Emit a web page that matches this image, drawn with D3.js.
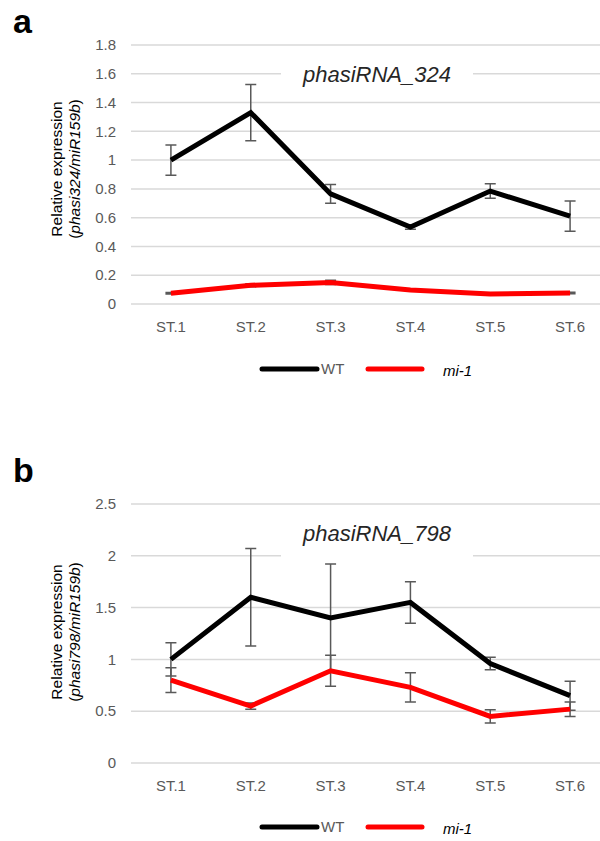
<!DOCTYPE html>
<html lang="en">
<head>
<meta charset="UTF-8" />
<title>phasiRNA expression</title>
<script src="https://cdnjs.cloudflare.com/ajax/libs/d3/7.9.0/d3.min.js"></script>
<style>
  html, body { margin: 0; padding: 0; background: #fff; }
  svg { display: block; font-family: "Liberation Sans", Arial, sans-serif; }
  .grid line { stroke: #d9d9d9; stroke-width: 1.5px; }
  .tick-label { fill: #595959; font-size: 15px; }
  .err { stroke: #595959; stroke-width: 1.5px; fill: none; }
</style>
</head>
<body>
<svg id="chart" width="600" height="841"></svg>
<script>
  // ---------- data ----------
  const stages = ["ST.1", "ST.2", "ST.3", "ST.4", "ST.5", "ST.6"];

  const wt324 = [1.0, 1.33, 0.765, 0.535, 0.785, 0.61];
  const wt324Err = [0.105, 0.195, 0.065, 0.015, 0.05, 0.105];
  const mi324 = [0.075, 0.13, 0.15, 0.097, 0.07, 0.077];
  const mi324Err = [0.005, 0.01, 0.015, 0.005, 0.005, 0.005];
  const ticks324 = [0, 0.2, 0.4, 0.6, 0.8, 1, 1.2, 1.4, 1.6, 1.8];

  const wt798 = [1.0, 1.6, 1.4, 1.55, 0.96, 0.65];
  const wt798Err = [0.16, 0.47, 0.52, 0.2, 0.06, 0.14];
  const mi798 = [0.8, 0.55, 0.89, 0.73, 0.45, 0.52];
  const mi798Err = [0.12, 0.03, 0.15, 0.14, 0.065, 0.07];
  const ticks798 = [0, 0.5, 1, 1.5, 2, 2.5];

  const svg = d3.select("#chart");

  function panel(opt) {
    const g = svg.append("g");
    const x = d3.scaleBand().domain(stages).range([131, 610]);
    const y = d3.scaleLinear().domain([0, opt.max]).range([opt.y0, opt.y1]);
    const cx = (d) => x(d) + x.bandwidth() / 2;

    // panel letter
    g.append("text").attr("x", 13).attr("y", opt.letterY)
      .attr("font-size", 34).attr("font-weight", "bold").attr("fill", "#000")
      .text(opt.letter);

    // gridlines
    g.append("g").attr("class", "grid")
      .selectAll("line").data(opt.ticks).join("line")
      .attr("x1", 131).attr("x2", 610)
      .attr("y1", (d) => y(d)).attr("y2", (d) => y(d));

    // tick labels
    g.selectAll("text.tick-label.yl").data(opt.ticks).join("text")
      .attr("class", "tick-label yl")
      .attr("x", 116).attr("y", (d) => y(d)).attr("dy", "0.35em")
      .attr("text-anchor", "end").text((d) => d);

    g.selectAll("text.tick-label.xl").data(stages).join("text")
      .attr("class", "tick-label xl")
      .attr("x", cx).attr("y", opt.y0 + 28)
      .attr("text-anchor", "middle").text((d) => d);

    // title with white box over gridline
    g.append("rect").attr("x", 281).attr("y", y(opt.titleTick) - 14)
      .attr("width", 192).attr("height", 28).attr("fill", "#fff");
    g.append("text").attr("x", 377).attr("y", opt.titleY)
      .attr("text-anchor", "middle").attr("font-size", 22)
      .attr("font-style", "italic").attr("fill", "#262626")
      .text(opt.title);

    // y-axis title
    const yt = g.append("text")
      .attr("transform", `translate(0,${opt.labelY}) rotate(-90)`)
      .attr("text-anchor", "middle").attr("font-size", 15.5).attr("fill", "#000");
    yt.append("tspan").attr("x", 0).attr("y", 62).text("Relative expression");
    const t2 = yt.append("tspan").attr("x", 0).attr("y", 80);
    t2.append("tspan").text("(");
    t2.append("tspan").attr("font-style", "italic").text(opt.ratio);
    t2.append("tspan").text(")");

    const line = d3.line().x((d, i) => cx(stages[i])).y((d) => y(d));

    const series = [
      { vals: opt.wt, err: opt.wtErr, color: "#000" },
      { vals: opt.mi, err: opt.miErr, color: "#ff0000" }
    ];

    // error bars
    series.forEach((s) => {
      const eb = g.append("g").attr("class", "err");
      s.vals.forEach((v, i) => {
        const px = cx(stages[i]);
        const top = y(v + s.err[i]), bot = y(v - s.err[i]);
        eb.append("path")
          .attr("d", `M${px},${top}V${bot}M${px - 5.5},${top}H${px + 5.5}M${px - 5.5},${bot}H${px + 5.5}`);
      });
    });

    // lines
    series.forEach((s) => {
      g.append("path").attr("d", line(s.vals))
        .attr("fill", "none").attr("stroke", s.color)
        .attr("stroke-width", 5).attr("stroke-linejoin", "miter");
    });

    // legend
    const ly = opt.legendY;
    g.append("line").attr("x1", 262).attr("x2", 317).attr("y1", ly).attr("y2", ly)
      .attr("stroke", "#000").attr("stroke-width", 5).attr("stroke-linecap", "round");
    g.append("text").attr("x", 321).attr("y", ly + 5).attr("font-size", 15)
      .attr("fill", "#595959").text("WT");
    g.append("line").attr("x1", 368).attr("x2", 422).attr("y1", ly).attr("y2", ly)
      .attr("stroke", "#ff0000").attr("stroke-width", 5).attr("stroke-linecap", "round");
    g.append("text").attr("x", 443).attr("y", ly + 7).attr("font-size", 15)
      .attr("font-style", "italic").attr("fill", "#000").text("mi-1");
  }

  panel({
    letter: "a", letterY: 33, max: 1.8, y0: 304, y1: 45, ticks: ticks324,
    wt: wt324, wtErr: wt324Err, mi: mi324, miErr: mi324Err,
    title: "phasiRNA_324", titleTick: 1.6, titleY: 82,
    ratio: "phasi324/miR159b", labelY: 169, legendY: 369
  });

  panel({
    letter: "b", letterY: 482, max: 2.5, y0: 763, y1: 504, ticks: ticks798,
    wt: wt798, wtErr: wt798Err, mi: mi798, miErr: mi798Err,
    title: "phasiRNA_798", titleTick: 2, titleY: 541,
    ratio: "phasi798/miR159b", labelY: 632, legendY: 827
  });
</script>
</body>
</html>
